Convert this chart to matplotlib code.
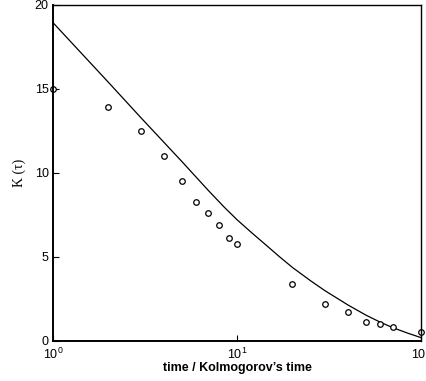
import matplotlib.pyplot as plt

# measured points
t_data = [1, 2, 3, 4, 5, 6, 7, 8, 9, 10, 20, 30, 40, 50, 60, 70, 100]
k_data = [15.0, 13.9, 12.5, 11.0, 9.5, 8.3, 7.6, 6.9, 6.15, 5.8,
          3.4, 2.2, 1.7, 1.13, 1.0, 0.83, 0.53]

# model curve
t_model = [1, 2, 3, 5, 7, 8.5, 10, 12, 14, 17, 20, 25, 30, 40, 50, 60, 70, 85, 100]
k_model = [18.95, 15.4, 13.3, 10.7, 8.95, 7.98, 7.22, 6.45, 5.82, 5.02, 4.38,
           3.6, 3.0, 2.15, 1.55, 1.12, 0.8, 0.46, 0.2]

plt.rcParams['font.family'] = 'Liberation Sans'
plt.rcParams['mathtext.default'] = 'regular'

fig = plt.figure(figsize=(4.27, 3.81), dpi=100)
ax = fig.add_axes([0.124, 0.105, 0.862, 0.882])

ax.plot(t_model, k_model, color='black', linewidth=0.9)
ax.plot(t_data, k_data, 'o', markersize=4, markerfacecolor='white',
        markeredgecolor='black', markeredgewidth=0.9, clip_on=False)

ax.set_xscale('log')
ax.set_xlim(1, 100)
ax.set_ylim(0, 20)
ax.set_yticks([0, 5, 10, 15, 20])
ax.minorticks_off()
ax.tick_params(direction='in', length=4, width=0.8, labelsize=9)
ax.tick_params(axis='x', pad=4)
ax.tick_params(axis='y', pad=3)

for s in ax.spines.values():
    s.set_linewidth(1.0)
ax.spines['left'].set_linewidth(1.4)
ax.spines['bottom'].set_linewidth(1.4)

ax.set_xlabel('time / Kolmogorov\u2019s time', fontsize=9, fontweight='bold', labelpad=0)
ax.set_ylabel('K (\u03c4)', fontsize=10, family='Liberation Serif', labelpad=6)

plt.savefig('out.png', dpi=100)
